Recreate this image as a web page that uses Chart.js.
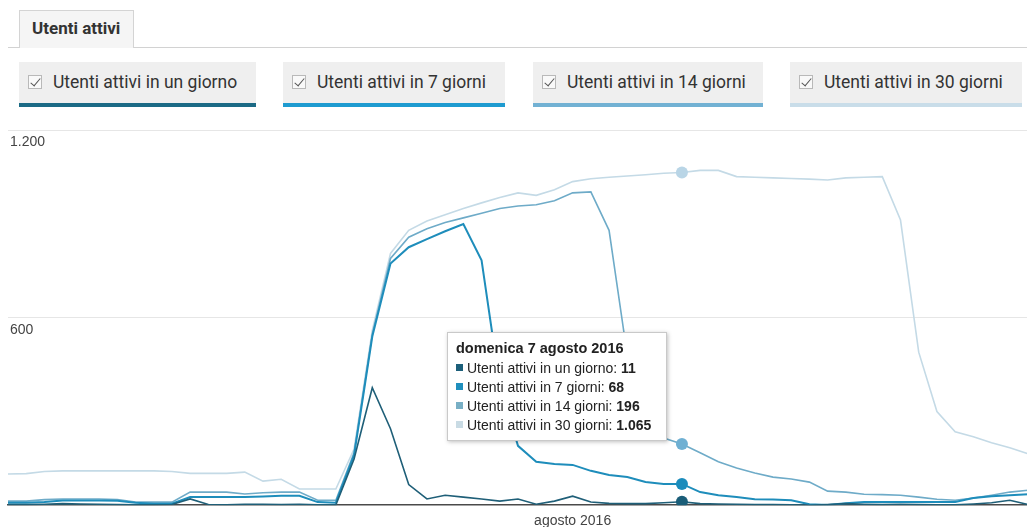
<!DOCTYPE html>
<html lang="it">
<head>
<meta charset="utf-8">
<title>Utenti attivi</title>
<script src="https://cdn.jsdelivr.net/npm/chart.js@4.4.1/dist/chart.umd.min.js"></script>
<style>
  html, body { margin: 0; padding: 0; background: #fff; }
  body { width: 1027px; height: 527px; position: relative; overflow: hidden; font-family: Roboto, "Liberation Sans", Arial, sans-serif; color: #333; }

  .tabs { position: absolute; left: 8px; top: 0; width: 1019px; height: 47px; border-bottom: 1px solid #d2d2d2; }
  .tab { position: absolute; left: 11px; top: 10px; width: 115px; height: 38px; box-sizing: border-box; background: #f5f5f5;
         border: 1px solid #d4d4d4; border-bottom: none; font-weight: 700; font-size: 17px; line-height: 35px; padding-left: 12px; color: #333; }

  .series { position: absolute; top: 62px; height: 45px; box-sizing: border-box; background: #efefef; border-bottom: 4px solid #999;
            font-size: 17.5px; line-height: 41px; color: #333; white-space: nowrap; }
  .series .box { position: absolute; left: 9px; top: 13px; width: 14px; height: 14px; box-sizing: border-box; border: 1px solid #b9b9b9; background: #f9f9f9; }
  .series .box::after { content: ""; position: absolute; left: 4px; top: 0px; width: 4px; height: 9px; border: solid #555; border-width: 0 1.5px 1.5px 0; transform: rotate(40deg); }
  .series .txt { position: absolute; left: 34px; top: 0; }

  #chartBox { position: absolute; left: -4px; top: 120px; width: 1040px; height: 420px; }

  .tip { position: absolute; background: #fff; border: 1px solid #c9c9c9; box-shadow: 1px 1px 4px rgba(0,0,0,0.25);
         font-family: "Liberation Sans", Arial, sans-serif; font-size: 14px; color: #222; padding: 6px 15px 5px 8px; white-space: nowrap; }
  .tip .title { font-weight: bold; font-size: 14.5px; line-height: 19px; margin-bottom: 1px; }
  .tip .row { line-height: 19px; height: 19px; }
  .tip .sw { display: inline-block; width: 7px; height: 7px; margin-right: 4px; vertical-align: 2px; }
  .tip b { font-weight: bold; }
</style>
</head>
<body>

<div class="tabs"><div class="tab">Utenti attivi</div></div>
<div id="seriesBar"></div>
<div id="chartBox"><canvas id="activeUsers"></canvas></div>
<div class="tip" id="tip"></div>

<script>
// Active users, one point per day from 1 July 2016 to 26 August 2016
const firstDay = new Date(2016, 6, 1);
const dayCount = 57;

const seriesNames = [
    'Utenti attivi in un giorno',
    'Utenti attivi in 7 giorni',
    'Utenti attivi in 14 giorni',
    'Utenti attivi in 30 giorni'
];

const oneDay = [2, 2, 3, 5, 4, 3, 2, 1, 1, 2, 20, 2, 1, 3, 3, 2, 3, 1, 1,
    148, 376, 245, 66, 20, 32, 26, 20, 13, 20, 3, 13, 29, 10, 6, 5, 5, 8, 11,
    5, 4, 3, 2, 2, 1, 0, 2, 5, 3, 2, 3, 2, 1, 1, 4, 8, 16, 2];

const sevenDays = [8, 8, 10, 15, 15, 15, 14, 8, 5, 5, 26, 26, 26, 26, 28, 30, 30, 10, 8,
    160, 540, 774, 826, 852, 877, 900, 784, 385, 190, 139, 132, 129, 110, 97, 90, 74, 68, 68,
    42, 32, 26, 19, 18, 16, 3, 1, 6, 10, 10, 10, 10, 10, 10, 23, 29, 32, 35];

const fourteenDays = [13, 13, 18, 20, 20, 20, 18, 10, 10, 10, 42, 42, 42, 36, 40, 42, 42, 16, 16,
    168, 548, 790, 858, 885, 905, 920, 935, 950, 958, 962, 975, 1000, 1003, 880, 480, 270, 215, 196,
    168, 139, 119, 103, 90, 84, 74, 45, 42, 35, 34, 32, 26, 19, 16, 23, 32, 42, 48];

const thirtyDays = [100, 101, 108, 110, 110, 110, 110, 110, 110, 108, 102, 102, 102, 106, 77, 83, 52, 52, 52,
    180, 560, 806, 880, 910, 930, 950, 968, 985, 1000, 992, 1010, 1036, 1045, 1050, 1054, 1058, 1063, 1065,
    1072, 1072, 1052, 1050, 1048, 1046, 1044, 1041, 1048, 1050, 1052, 913, 490, 300, 235, 219, 200, 184, 165];

const monthTickIndex = [31];
const monthTickText = ['agosto 2016'];
const yTicks = [0, 600, 1200];

const weekdayNames = ['domenica', 'lunedì', 'martedì', 'mercoledì', 'giovedì', 'venerdì', 'sabato'];
const monthNames = ['gennaio', 'febbraio', 'marzo', 'aprile', 'maggio', 'giugno', 'luglio',
    'agosto', 'settembre', 'ottobre', 'novembre', 'dicembre'];

const highlightIndex = 37; // domenica 7 agosto

const lineColors = ['#1f5f78', '#1e8dbb', '#6eabc8', '#c4dae6'];
const barColors = ['#1b6a85', '#1e9bd0', '#72b1d3', '#c9dde9'];
const swatchColors = ['#1c5f7a', '#1f8fbd', '#78afc5', '#c9dbe4'];
const dotColors = ['#1a5d78', '#1b8cbc', '#6fb0d3', '#b9d5e6'];

// days as dates, plus their labels
const days = [];
for (let i = 0; i < dayCount; i++) {
    days.push(new Date(firstDay.getFullYear(), firstDay.getMonth(), firstDay.getDate() + i));
}
const dayLabels = days.map(d => d.getDate() + ' ' + monthNames[d.getMonth()] + ' ' + d.getFullYear());

// 1200 -> "1.200"
function formatNumber(v) {
    return String(v).replace(/\B(?=(\d{3})+(?!\d))/g, '.');
}

// Series toggles above the chart
const seriesLefts = [19, 283, 533, 790];
const seriesWidths = [237, 222, 230, 232];
const seriesBar = document.getElementById('seriesBar');
seriesNames.forEach((name, i) => {
    const el = document.createElement('div');
    el.className = 'series';
    el.style.left = seriesLefts[i] + 'px';
    el.style.width = seriesWidths[i] + 'px';
    el.style.borderBottomColor = barColors[i];
    el.innerHTML = '<span class="box"></span><span class="txt">' + name + '</span>';
    seriesBar.appendChild(el);
});

Chart.defaults.font.family = '"Liberation Sans", Arial, sans-serif';
Chart.defaults.font.size = 14;

const seriesData = [oneDay, sevenDays, fourteenDays, thirtyDays];

function makeDataset(i) {
    return {
        label: seriesNames[i],
        data: seriesData[i],
        borderColor: lineColors[i],
        backgroundColor: dotColors[i],
        borderWidth: i === 1 ? 2 : 1.6,
        tension: 0,
        fill: false,
        pointRadius: ctx => ctx.dataIndex === highlightIndex ? 6 : 0,
        pointBackgroundColor: dotColors[i],
        pointBorderWidth: 0,
        pointHoverRadius: 6
    };
}

const chart = new Chart(document.getElementById('activeUsers').getContext('2d'), {
    type: 'line',
    data: {
        labels: dayLabels,
        datasets: [0, 1, 2, 3].map(makeDataset)
    },
    options: {
        responsive: true,
        maintainAspectRatio: false,
        animation: false,
        events: [],
        layout: { padding: { left: 8, right: 0, top: 10, bottom: 2 } },
        plugins: {
            legend: { display: false },
            tooltip: { enabled: false }
        },
        scales: {
            x: {
                type: 'category',
                offset: false,
                grid: { display: false, drawTicks: false },
                border: { display: true, color: '#4a4a4a', width: 1.5 },
                ticks: {
                    autoSkip: false,
                    maxRotation: 0,
                    padding: 8,
                    color: '#444',
                    callback: (value, index) => {
                        const k = monthTickIndex.indexOf(index);
                        return k >= 0 ? monthTickText[k] : '';
                    }
                }
            },
            y: {
                min: yTicks[0],
                max: yTicks[yTicks.length - 1],
                afterBuildTicks: axis => { axis.ticks = yTicks.map(v => ({ value: v })); },
                grid: {
                    drawTicks: false,
                    color: ctx => ctx.tick && ctx.tick.value === 0 ? 'rgba(0,0,0,0)' : '#e6e6e6'
                },
                border: { display: false },
                ticks: {
                    mirror: true,
                    padding: 2,
                    labelOffset: 12,
                    color: '#444',
                    callback: v => v === 0 ? '' : formatNumber(v)
                }
            }
        }
    }
});

// Tooltip box for the highlighted day
const tip = document.getElementById('tip');
const d = days[highlightIndex];
let html = '<div class="title">' + weekdayNames[d.getDay()] + ' ' + d.getDate() + ' ' +
    monthNames[d.getMonth()] + ' ' + d.getFullYear() + '</div>';
seriesNames.forEach((name, i) => {
    html += '<div class="row"><span class="sw" style="background:' + swatchColors[i] + '"></span>' +
        name + ': <b>' + formatNumber(seriesData[i][highlightIndex]) + '</b></div>';
});
tip.innerHTML = html;

const chartBox = document.getElementById('chartBox');
const pointX = chartBox.offsetLeft + chart.scales.x.getPixelForValue(highlightIndex);
tip.style.left = (pointX - 15 - tip.offsetWidth) + 'px';
tip.style.top = (chartBox.offsetTop + 212) + 'px';
</script>
</body>
</html>
